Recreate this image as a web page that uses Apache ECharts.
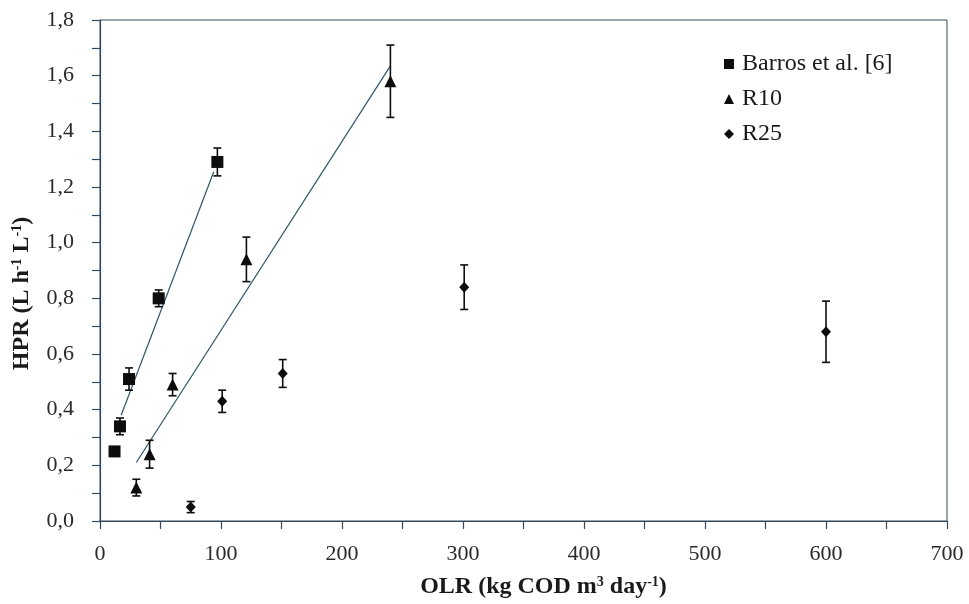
<!DOCTYPE html>
<html>
<head>
<meta charset="utf-8">
<script src="https://cdn.jsdelivr.net/npm/echarts@6/dist/echarts.min.js"></script>
<style>
  html, body { margin: 0; padding: 0; background: #fff; }
  #chart { width: 969px; height: 604px; }
</style>
</head>
<body>
<div id="chart"></div>
<script>
// data
const barrosX = [12, 16.5, 24, 48.5, 97];
const barrosY = [0.25, 0.34, 0.51, 0.80, 1.29];
const barrosErr = [0.01, 0.03, 0.04, 0.03, 0.05];

const r10X = [30, 41, 60, 121, 240];
const r10Y = [0.12, 0.24, 0.49, 0.94, 1.58];
const r10Err = [0.03, 0.05, 0.04, 0.08, 0.13];

const r25X = [75, 101, 151, 301, 600];
const r25Y = [0.05, 0.43, 0.53, 0.84, 0.68];
const r25Err = [0.02, 0.04, 0.05, 0.08, 0.11];

// trend line end points
const barrosFit = [[17.5, 0.38], [94, 1.255]];
const r10Fit = [[30, 0.21], [240, 1.635]];

const serif = "'Liberation Serif', 'DejaVu Serif', serif";
const ink = '#0d0d0d';
const axisColor = '#34495a';
const fitColor = '#2f5566';

function pts(xs, ys) {
  return xs.map((x, i) => [x, ys[i]]);
}
function errs(xs, ys, es) {
  return xs.map((x, i) => [x, ys[i], es[i]]);
}

// vertical error bar with small caps
function errorBars(data) {
  return {
    type: 'custom',
    silent: true,
    z: 3,
    data: data,
    encode: { x: 0, y: 1 },
    renderItem: function (params, api) {
      const x = api.value(0), y = api.value(1), e = api.value(2);
      const hi = api.coord([x, y + e]);
      const lo = api.coord([x, y - e]);
      const w = 4;
      const style = { stroke: ink, lineWidth: 1.6 };
      return {
        type: 'group',
        children: [
          { type: 'line', shape: { x1: hi[0], y1: hi[1], x2: lo[0], y2: lo[1] }, style },
          { type: 'line', shape: { x1: hi[0] - w, y1: hi[1], x2: hi[0] + w, y2: hi[1] }, style },
          { type: 'line', shape: { x1: lo[0] - w, y1: lo[1], x2: lo[0] + w, y2: lo[1] }, style }
        ]
      };
    }
  };
}

function fitLine(data) {
  return {
    type: 'line',
    data: data,
    symbol: 'none',
    silent: true,
    z: 2,
    lineStyle: { color: fitColor, width: 1.2 },
    tooltip: { show: false }
  };
}

const sup = { fontSize: 14, fontWeight: 'bold', fontFamily: serif, color: '#1a1a1a', verticalAlign: 'top', lineHeight: 24 };

const option = {
  animation: false,
  backgroundColor: '#fff',
  grid: {
    left: 100, right: 22, top: 20, bottom: 80,
    show: true, borderColor: axisColor, borderWidth: 1, backgroundColor: 'transparent'
  },
  legend: {
    orient: 'vertical',
    left: 719,
    top: 47,
    itemGap: 11,
    itemWidth: 10,
    itemHeight: 10,
    textStyle: { fontFamily: serif, fontSize: 24, color: '#1a1a1a', padding: [0, 0, 0, 3] },
    data: [
      { name: 'Barros et al. [6]', icon: 'rect' },
      { name: 'R10', icon: 'triangle' },
      { name: 'R25', icon: 'diamond' }
    ]
  },
  xAxis: {
    type: 'value',
    min: 0, max: 700, interval: 50,
    name: 'OLR (kg COD m{s|3} day{s|-1})',
    nameLocation: 'middle',
    nameGap: 54,
    nameTextStyle: {
      fontFamily: serif, fontSize: 24, fontWeight: 'bold', color: '#1a1a1a',
      padding: [0, 0, 0, 40],
      rich: { s: sup }
    },
    axisLine: { lineStyle: { color: axisColor, width: 1.2 } },
    axisTick: { inside: false, length: 8, lineStyle: { color: axisColor, width: 1.2 } },
    axisLabel: {
      margin: 22, fontFamily: serif, fontSize: 22, color: '#2a2a2a',
      formatter: v => (v % 100 === 0 ? String(v) : '')
    },
    splitLine: { show: false }
  },
  yAxis: {
    type: 'value',
    min: 0, max: 1.8, interval: 0.1,
    name: 'HPR (L h{s|-1} L{s|-1})',
    nameLocation: 'middle',
    nameGap: 66,
    nameTextStyle: {
      fontFamily: serif, fontSize: 24, fontWeight: 'bold', color: '#1a1a1a',
      padding: [0, 46, 0, 0],
      rich: { s: sup }
    },
    axisLine: { show: true, lineStyle: { color: axisColor, width: 1.2 } },
    axisTick: { show: true, inside: false, length: 8, lineStyle: { color: axisColor, width: 1.2 } },
    axisLabel: {
      margin: 26, fontFamily: serif, fontSize: 22, color: '#2a2a2a',
      formatter: v => (Math.round(v * 10) % 2 === 0 ? v.toFixed(1).replace('.', ',') : '')
    },
    splitLine: { show: false }
  },
  series: [
    fitLine(barrosFit),
    fitLine(r10Fit),
    errorBars(errs(barrosX, barrosY, barrosErr)),
    errorBars(errs(r10X, r10Y, r10Err)),
    errorBars(errs(r25X, r25Y, r25Err)),
    {
      name: 'Barros et al. [6]', type: 'scatter', z: 4,
      symbol: 'rect', symbolSize: 12,
      itemStyle: { color: ink, opacity: 1 },
      data: pts(barrosX, barrosY)
    },
    {
      name: 'R10', type: 'scatter', z: 4,
      symbol: 'triangle', symbolSize: 12,
      itemStyle: { color: ink, opacity: 1 },
      data: pts(r10X, r10Y)
    },
    {
      name: 'R25', type: 'scatter', z: 4,
      symbol: 'diamond', symbolSize: [10, 11],
      itemStyle: { color: ink, opacity: 1 },
      data: pts(r25X, r25Y)
    }
  ]
};

const myChart = echarts.init(document.getElementById('chart'));
myChart.setOption(option);
</script>
</body>
</html>
